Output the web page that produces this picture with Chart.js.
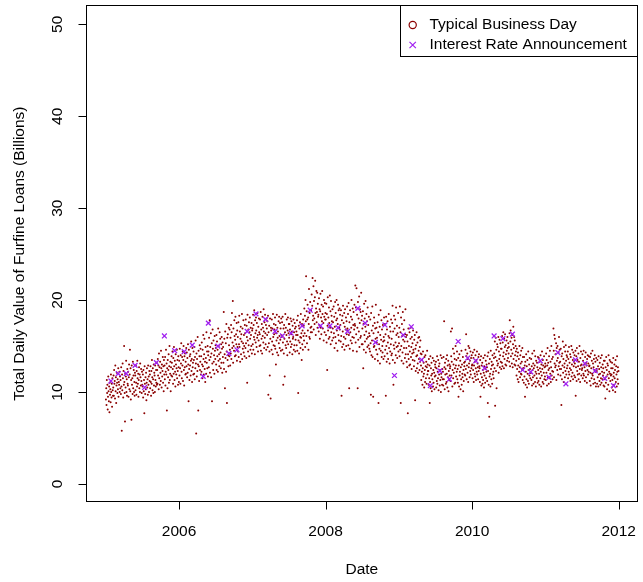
<!DOCTYPE html>
<html>
<head>
<meta charset="utf-8">
<script src="https://cdn.jsdelivr.net/npm/chart.js@4/dist/chart.umd.min.js"></script>
<style>
html,body{margin:0;padding:0;background:#fff;}
canvas{display:block;}
</style>
</head>
<body>
<canvas id="c" width="643" height="582"></canvas>
<script>
// ---- Data (Billions) ----
const years = [2005, 2006, 2007, 2008, 2009, 2010, 2011];

const v2005 = [
9.2,10.4,8.6,11.3,9.9,10.8,8.1,9.5,11.7,10.1,9.0,10.6,7.8,11.0,9.7,10.3,8.9,11.9,10.0,9.4,10.9,8.4,11.5,10.2,9.6,
10.5,11.8,9.6,12.4,10.9,11.2,9.3,12.9,10.1,11.6,8.8,10.7,12.1,11.0,9.9,11.4,10.3,12.6,9.5,11.1,10.8,12.2,10.0,11.7,10.4,
11.3,9.8,12.7,10.6,5.8,11.9,10.2,13.1,11.5,9.4,12.3,10.8,15.0,11.1,9.9,6.8,12.0,10.5,11.7,13.4,10.0,11.4,9.6,12.5,10.9,
10.7,12.2,9.5,11.6,13.0,10.3,11.9,14.6,10.1,12.6,9.2,11.3,7.0,12.9,10.8,11.5,9.8,13.3,10.4,11.8,12.4,10.0,11.1,9.6,12.1,
11.8,10.2,12.9,11.0,9.7,12.3,10.6,13.4,11.5,10.9,12.0,9.5,11.3,12.7,10.4,11.9,10.0,13.1,11.6,10.7,12.5,11.2,9.9,12.2,10.8,
10.6,11.9,9.4,12.4,10.1,11.3,7.7,12.8,10.9,9.8,11.6,10.3,12.1,9.1,11.0,12.6,10.5,11.4,9.7,12.9,10.8,11.7,10.0,12.3,11.2,
11.9,10.4,12.8,11.1,9.6,12.3,10.9,13.5,11.6,10.2,12.6,11.4,9.9,13.0,10.7,12.1,11.8,10.0,12.9,11.3,10.6,12.4,11.0,13.2,10.8,
12.4,10.9,13.6,11.8,12.9,10.3,14.2,11.5,12.7,10.8,13.3,12.1,11.2,14.5,12.6,10.5,13.0,11.7,12.3,13.8,11.0,12.8,10.1,13.5,11.9,
12.9,11.4,13.8,10.7,12.2,14.6,11.9,13.1,8.0,12.6,10.4,13.5,11.6,12.4,14.1,11.0,12.8,15.0,11.3,12.0,13.3,10.1,12.7,11.8,13.9,
13.2,11.7,14.4,12.5,10.9,13.7,12.0,14.9,12.8,11.3,13.4,12.2,10.6,14.1,13.0,11.9,12.6,14.6,11.5,13.5,12.3,10.8,13.9,12.7,11.1
];
const v2006 = [
13.4,11.8,14.7,12.6,10.9,14.0,13.1,15.3,12.2,11.5,13.8,12.9,14.4,11.2,13.5,15.0,12.4,10.7,13.9,12.7,14.2,11.9,13.3,12.0,14.8,
12.8,14.3,11.6,13.7,12.1,15.2,13.0,9.0,14.6,12.5,11.3,13.9,12.9,14.1,11.8,13.4,15.5,12.3,13.6,11.1,14.8,12.7,13.2,11.9,14.4,
13.5,12.0,14.9,11.4,13.8,12.6,15.6,13.1,5.5,14.2,11.7,13.6,12.3,16.0,13.0,8.0,14.5,12.8,11.2,13.9,15.1,12.4,13.3,14.7,11.9,
13.9,12.2,15.4,13.0,11.5,14.6,12.8,16.2,13.6,11.9,14.1,15.8,12.5,13.3,11.1,14.9,13.7,12.0,16.5,13.2,14.4,12.6,15.0,11.7,14.0,
14.4,12.7,15.9,13.5,17.8,12.1,14.9,13.8,16.4,11.6,14.2,15.3,9.0,13.1,16.8,14.7,12.4,15.6,13.3,14.0,12.0,16.1,14.5,13.6,15.1,
14.8,13.0,16.2,12.4,15.5,13.9,14.6,12.2,16.9,13.4,15.0,14.1,12.8,16.5,13.6,15.8,14.3,12.6,15.2,13.2,16.0,14.7,12.1,15.4,13.8,
14.9,13.2,18.7,12.5,15.8,14.1,10.4,16.6,13.7,15.3,12.2,17.4,14.4,8.8,15.9,13.5,16.3,14.0,12.8,17.0,15.1,13.9,16.8,14.6,12.9,
15.9,14.2,17.3,13.6,16.5,18.6,14.8,15.4,19.9,13.2,16.9,15.0,14.5,17.8,16.1,13.9,15.7,18.2,14.0,16.3,15.2,17.5,13.4,16.7,14.9,
16.0,14.4,17.6,13.8,15.2,18.3,14.9,16.6,13.3,15.8,17.1,14.1,16.3,15.5,18.5,13.6,16.9,14.7,15.3,17.8,14.3,16.2,15.0,13.9,17.3,
16.4,14.8,17.9,15.3,13.7,17.2,16.0,11.0,18.4,15.6,14.4,16.8,15.1,17.6,13.9,16.5,18.1,15.8,14.6,17.0,16.2,15.0,17.5,14.2,16.7
];
const v2007 = [
16.9,15.2,18.4,14.6,17.3,16.0,18.9,15.7,14.1,17.8,16.4,15.4,18.1,16.7,14.9,17.5,15.9,18.6,16.2,14.4,17.1,15.6,18.0,16.5,15.0,
16.3,17.9,15.1,18.7,14.5,16.8,15.8,17.4,14.2,18.2,16.1,17.0,15.4,19.0,16.6,14.8,17.6,15.9,18.4,16.4,15.2,17.3,14.6,18.0,16.9,
16.2,17.7,14.9,18.3,9.7,16.5,15.3,17.2,14.4,11.8,18.0,15.8,9.3,17.0,16.7,14.6,17.9,15.5,16.9,14.1,18.5,16.0,15.1,17.4,16.3,
16.8,15.0,18.1,14.7,17.3,13.0,16.4,15.6,18.4,14.3,17.0,15.9,16.6,14.0,17.7,15.3,18.2,16.1,14.8,17.5,15.7,16.9,14.5,18.0,16.2,
16.0,17.6,14.6,18.2,15.4,10.8,16.9,14.2,17.3,15.8,11.7,16.5,18.5,15.1,17.0,14.8,16.2,17.9,15.5,14.0,16.7,18.1,15.2,16.4,17.4,
15.9,17.4,14.3,16.8,15.5,18.0,14.9,16.3,17.7,15.2,16.6,14.1,17.2,15.8,16.0,17.9,14.6,16.5,15.1,17.5,16.9,14.4,15.7,17.1,16.2,
16.6,15.1,17.8,14.5,16.2,18.3,9.9,15.6,17.2,14.2,16.9,15.4,17.6,16.0,14.8,18.5,15.9,16.4,13.5,17.4,15.2,16.7,14.6,17.9,16.1,
17.2,15.6,19.1,16.4,18.3,14.9,20.0,17.7,22.6,16.1,18.8,15.3,17.9,19.5,16.7,18.1,14.6,17.4,21.2,16.0,18.6,15.8,19.8,17.0,16.5,
18.9,17.1,20.6,16.5,19.4,22.4,17.8,18.3,21.5,16.8,19.9,18.0,17.4,20.3,22.1,18.6,16.2,19.1,21.0,17.6,18.7,20.8,17.0,19.6,18.2,
18.4,16.6,20.2,17.3,19.0,15.8,18.8,20.7,17.0,18.1,16.3,19.5,17.7,21.0,18.5,16.9,19.3,17.5,15.6,20.0,18.2,16.5,19.7,17.9,18.6
];
const v2008 = [
17.9,16.2,19.6,15.4,18.5,12.4,17.2,20.3,16.7,18.1,15.8,19.2,17.5,16.0,20.5,17.0,18.8,15.2,19.9,16.5,18.3,17.7,15.6,19.0,16.9,
17.6,15.9,19.3,16.4,18.2,14.8,17.1,19.8,16.0,18.6,15.3,17.8,20.0,16.7,18.0,14.5,17.4,19.5,16.2,18.9,15.6,17.0,19.1,16.8,18.4,
17.3,15.5,18.9,16.1,9.6,17.8,14.9,18.3,16.6,19.4,15.2,17.5,16.0,18.6,14.6,17.1,19.0,15.8,16.8,18.1,15.0,17.7,16.3,19.3,16.9,
16.7,18.5,15.1,19.7,16.2,10.4,17.6,14.7,18.9,16.5,15.6,18.2,17.0,20.0,15.3,17.9,16.0,19.1,14.5,17.3,18.7,15.9,16.8,19.5,17.4,
17.2,21.6,15.4,19.2,16.3,21.3,14.4,18.4,17.0,10.4,19.8,15.7,18.0,16.6,20.4,14.9,17.5,19.0,15.9,18.7,16.1,20.8,17.8,15.2,18.3,
16.9,15.2,18.8,12.6,17.4,14.6,19.6,16.2,18.0,15.5,17.1,19.9,14.3,16.6,18.5,15.8,17.7,14.9,19.2,16.0,17.3,15.1,18.2,16.4,14.7,
16.1,14.4,17.9,15.3,9.7,18.6,14.0,16.7,15.6,19.3,13.8,17.2,9.5,16.4,14.9,18.1,15.0,17.5,13.6,16.9,15.8,19.5,14.6,17.0,15.4,
15.9,14.1,17.6,13.4,16.5,8.8,18.4,15.2,14.7,17.1,13.1,16.2,18.9,14.5,15.7,17.8,13.8,16.8,15.0,14.3,17.3,15.5,13.6,16.0,18.1,
15.6,13.9,17.4,14.6,16.3,9.6,18.2,15.0,13.3,16.8,14.2,17.7,15.4,13.6,16.1,18.5,14.8,15.9,13.1,17.1,14.4,16.6,15.2,17.9,14.0,
15.8,14.2,17.5,19.4,13.5,16.6,10.8,15.1,18.3,14.7,16.9,13.2,17.9,15.4,14.0,19.2,16.2,14.9,17.2,13.7,16.4,15.0,18.6,14.4,16.0
];
const v2009 = [
15.3,17.0,13.9,19.3,14.6,16.5,8.8,18.1,15.0,13.4,17.4,16.1,14.3,18.7,15.7,13.1,16.8,14.8,17.8,15.5,13.7,16.3,19.0,14.1,16.0,
14.8,13.3,16.2,12.7,15.5,7.7,14.1,16.9,13.6,15.0,12.9,16.5,14.4,13.0,15.8,17.0,13.8,14.9,12.5,16.0,14.2,15.3,13.5,16.7,14.6,
14.3,12.8,15.7,13.4,16.2,9.1,14.7,12.3,15.1,13.9,16.5,12.6,14.0,15.4,13.1,12.1,15.9,14.5,13.6,16.0,12.4,14.9,13.3,15.6,14.2,
12.9,11.3,14.1,12.2,13.5,10.8,12.6,14.4,11.7,13.2,12.0,10.5,13.8,12.4,11.1,14.0,12.8,11.5,13.3,10.9,12.7,14.5,11.9,13.0,12.3,
12.3,10.8,13.6,11.5,12.9,8.8,11.1,13.9,10.4,12.6,11.8,13.2,10.1,12.0,11.4,13.7,10.6,12.4,11.0,13.4,12.1,10.3,11.7,13.0,12.7,
11.8,13.3,10.5,12.6,11.2,13.9,10.9,12.2,11.5,13.5,10.2,12.8,11.9,13.1,10.7,12.4,11.3,14.0,10.0,12.0,11.6,13.7,10.8,12.5,11.4,
12.2,10.7,13.8,11.4,17.7,12.7,10.3,13.2,11.9,12.5,10.9,13.6,11.1,12.0,14.0,10.5,12.9,11.6,13.4,10.1,12.3,11.3,13.0,11.8,12.6,
12.8,11.2,16.6,13.9,11.8,13.3,16.9,10.6,12.4,14.7,11.5,13.0,12.1,14.2,10.9,13.6,12.6,11.0,15.0,12.9,11.7,13.5,12.2,14.4,11.4,
12.5,11.0,13.7,9.5,12.9,10.6,14.1,11.8,12.2,13.4,10.3,12.7,11.4,14.5,10.8,13.0,12.0,11.6,13.8,10.1,12.4,11.2,13.2,12.8,11.9,
13.3,11.8,14.6,12.5,16.3,13.9,11.4,12.9,14.2,12.1,13.6,11.1,15.0,12.7,13.1,14.8,11.6,13.4,12.3,14.4,11.9,13.7,12.6,14.0,12.9
];
const v2010 = [
13.0,11.5,14.3,12.4,13.7,11.1,12.9,14.6,12.0,13.3,11.7,14.0,12.6,11.3,13.5,12.2,14.4,11.9,13.1,12.7,11.4,13.8,12.3,14.1,12.8,
12.6,11.1,13.5,9.5,12.0,13.9,10.7,12.9,11.6,13.2,10.9,12.4,11.3,13.7,12.1,10.5,12.8,11.8,14.0,11.0,12.5,13.4,11.5,12.2,13.0,
12.7,11.2,13.9,8.8,12.3,14.3,10.8,13.1,7.3,11.7,13.6,12.0,10.6,14.5,12.5,11.4,13.3,12.9,10.9,14.0,11.9,13.0,12.2,11.5,13.7,
14.2,12.6,15.5,8.5,13.8,15.9,12.3,14.6,10.4,13.4,15.2,12.9,14.9,13.1,16.0,12.1,14.4,13.6,15.7,12.7,14.0,15.3,13.3,14.7,12.5,
14.7,13.2,16.1,12.8,15.4,13.9,16.5,14.3,12.6,15.8,13.6,14.9,16.3,13.0,15.1,14.1,12.9,15.6,14.5,13.4,16.0,14.8,13.7,15.3,14.2,
14.9,13.3,16.4,17.8,12.8,15.5,16.7,13.9,14.6,15.9,13.1,16.2,14.2,12.7,15.2,17.1,13.6,14.8,16.0,13.0,15.6,14.0,12.9,15.0,14.4,
13.4,11.8,14.7,12.5,13.9,11.4,14.3,12.9,11.1,13.6,12.2,15.0,12.7,11.6,14.0,13.1,12.0,14.5,11.9,13.3,12.4,14.8,11.3,13.8,12.6,
12.6,11.0,13.8,11.7,12.9,9.5,13.3,10.8,12.2,14.1,11.4,12.8,10.5,13.5,12.0,11.2,14.4,12.4,10.9,13.0,11.8,13.7,12.5,11.5,12.1,
12.1,13.6,11.3,12.8,10.7,14.2,12.4,11.6,13.1,10.9,12.6,14.5,11.8,12.9,11.1,13.9,12.2,10.6,13.4,12.0,11.5,13.2,12.7,11.0,13.8,
12.4,11.2,13.7,12.0,10.8,13.3,12.6,11.5,14.0,12.2,10.6,13.0,11.8,14.4,12.5,11.1,13.5,12.9,10.9,12.1,13.9,11.4,12.7,11.7,13.1
];
const v2011 = [
12.8,11.3,14.2,12.1,13.5,10.7,12.9,14.8,11.6,13.2,12.4,10.9,13.9,12.6,11.5,14.5,12.0,13.3,11.1,12.7,15.0,11.8,13.6,12.3,11.4,
13.8,12.2,16.9,14.5,11.6,16.2,13.1,15.8,12.7,14.1,12.9,15.3,11.3,14.8,13.4,12.4,15.0,13.7,11.9,14.3,12.8,16.0,13.2,14.6,12.5,
13.3,11.8,14.7,12.5,8.6,13.9,11.4,14.2,12.9,15.5,12.1,13.6,11.1,14.9,12.7,13.1,11.6,14.4,12.3,15.1,13.4,11.9,14.0,12.6,13.8,
12.9,14.4,11.5,13.6,12.2,14.9,11.9,13.2,12.6,14.1,11.2,13.8,12.4,15.0,11.7,13.0,14.6,12.1,13.5,11.4,14.3,12.8,13.3,11.8,14.0,
13.1,11.6,14.5,9.6,12.7,13.9,11.2,14.8,12.3,13.5,11.9,12.8,14.2,11.4,13.3,12.0,15.0,12.5,11.1,13.7,12.9,14.4,11.8,13.0,12.4,
12.6,14.1,11.5,13.4,12.0,14.5,11.8,13.0,12.7,11.2,13.8,12.3,14.3,11.6,13.2,12.9,11.0,13.6,12.4,14.0,11.9,13.1,12.2,13.9,12.8,
12.9,11.2,13.8,12.1,10.7,14.2,12.6,11.5,13.4,12.0,14.5,11.8,13.1,10.9,12.7,13.6,11.4,12.4,14.0,11.0,13.3,12.2,10.6,13.7,12.5,
12.3,10.9,13.5,11.6,12.8,10.6,13.9,11.9,12.5,11.2,13.2,12.0,10.8,13.7,11.5,12.7,11.0,14.0,12.2,11.4,13.0,11.8,12.6,10.7,13.4,
12.1,10.6,13.4,11.4,9.3,12.7,11.0,13.8,11.7,12.4,10.3,13.1,11.9,12.9,10.8,14.0,11.5,12.2,10.1,13.5,12.0,11.2,13.3,11.8,12.6,
11.9,10.5,13.2,11.3,12.6,10.2,13.7,11.7,12.1,10.8,13.0,11.5,12.4,10.0,13.5,11.1,12.8,11.9,10.6,13.9,12.2,11.4,12.7,10.9,12.3
];

// Interest rate announcement days (decimal year) and values
const annDates = [2005.07,2005.17,2005.28,2005.40,2005.53,2005.69,2005.80,2005.94,
  2006.07,2006.18,2006.33,2006.40,2006.53,2006.68,2006.79,2006.93,
  2007.05,2007.18,2007.31,2007.41,2007.53,2007.68,2007.79,2007.93,
  2008.06,2008.17,2008.30,2008.44,2008.54,2008.68,2008.81,2008.94,
  2009.06,2009.17,2009.31,2009.43,2009.56,2009.69,2009.81,2009.94,
  2010.05,2010.17,2010.30,2010.42,2010.55,2010.69,2010.80,2010.93,
  2011.05,2011.17,2011.28,2011.41,2011.54,2011.68,2011.81,2011.93];
const annValues = [11.2,12.0,12.0,12.9,10.5,13.2,16.1,14.5,
  14.4,15.1,11.7,17.5,15.0,14.2,14.6,16.6,
  18.5,17.9,16.6,16.1,16.4,17.2,18.9,17.2,
  17.2,17.0,16.6,19.1,17.5,15.4,17.3,11.8,
  16.2,17.1,13.5,10.7,12.3,11.4,15.5,13.7,
  13.4,12.6,16.1,15.8,16.3,12.4,12.2,13.4,
  11.6,14.3,10.9,13.5,13.1,12.3,11.5,10.7];

const xTicks = [2006, 2008, 2010, 2012];
const yTicks = [0, 10, 20, 30, 40, 50];
const xTitle = 'Date';
const yTitle = 'Total Daily Value of Furfine Loans (Billions)';
const legendLabels = ['Typical Business Day', 'Interest Rate Announcement'];

// ---- Build points ----
const yearly = [v2005, v2006, v2007, v2008, v2009, v2010, v2011];
const dayPts = [];
yearly.forEach((arr, k) => {
  arr.forEach((v, i) => dayPts.push({ x: years[k] + (i + 0.5) / arr.length, y: v }));
});
const annPts = annDates.map((d, i) => ({ x: d, y: annValues[i] }));

const DARKRED = '#8B0000';
const PURPLE = '#A020F0';
const FONT = '15.5px "Liberation Sans", Arial, Helvetica, sans-serif';

const rAxes = {
  id: 'rAxes',
  afterDraw(chart) {
    const ctx = chart.ctx;
    const a = chart.chartArea;
    const xs = chart.scales.x, ys = chart.scales.y;
    ctx.save();
    ctx.strokeStyle = '#000';
    ctx.lineWidth = 1;
    // box
    ctx.strokeRect(Math.round(a.left) + 0.5, Math.round(a.top) + 0.5,
      Math.round(a.right - a.left) - 1, Math.round(a.bottom - a.top) - 1);
    ctx.fillStyle = '#000';
    ctx.font = FONT;
    // x ticks
    ctx.textAlign = 'center';
    ctx.textBaseline = 'middle';
    const yb = Math.round(a.bottom) - 0.5;
    ctx.beginPath();
    xTicks.forEach(t => {
      const px = Math.round(xs.getPixelForValue(t)) + 0.5;
      ctx.moveTo(px, yb); ctx.lineTo(px, yb + 8);
    });
    ctx.stroke();
    xTicks.forEach(t => ctx.fillText(String(t), xs.getPixelForValue(t), 532));
    // y ticks
    const xl = Math.round(a.left) + 0.5;
    ctx.beginPath();
    yTicks.forEach(t => {
      const py = Math.round(ys.getPixelForValue(t)) + 0.5;
      ctx.moveTo(xl, py); ctx.lineTo(xl - 8, py);
    });
    ctx.stroke();
    yTicks.forEach(t => {
      ctx.save();
      ctx.translate(58, ys.getPixelForValue(t));
      ctx.rotate(-Math.PI / 2);
      ctx.fillText(String(t), 0, 0);
      ctx.restore();
    });
    // titles
    ctx.fillText(xTitle, (a.left + a.right) / 2, 570);
    ctx.save();
    ctx.translate(20, (a.top + a.bottom) / 2);
    ctx.rotate(-Math.PI / 2);
    ctx.fillText(yTitle, 0, 0);
    ctx.restore();
    // legend
    const lx = 400, ly = 5, lr = Math.round(a.right), lb = 56;
    ctx.fillStyle = '#fff';
    ctx.fillRect(lx, ly, lr - lx, lb - ly);
    ctx.strokeStyle = '#000';
    ctx.strokeRect(lx + 0.5, ly + 0.5, lr - lx - 1, lb - ly);
    ctx.lineWidth = 1.2;
    ctx.strokeStyle = DARKRED;
    ctx.beginPath();
    ctx.arc(412.7, 25, 3.6, 0, Math.PI * 2);
    ctx.stroke();
    ctx.strokeStyle = PURPLE;
    ctx.beginPath();
    ctx.moveTo(409.5, 41.8); ctx.lineTo(415.9, 48.2);
    ctx.moveTo(415.9, 41.8); ctx.lineTo(409.5, 48.2);
    ctx.stroke();
    ctx.fillStyle = '#000';
    ctx.textAlign = 'left';
    ctx.fillText(legendLabels[0], 429.5, 25);
    ctx.fillText(legendLabels[1], 429.5, 45);
    ctx.restore();
  }
};

new Chart(document.getElementById('c'), {
  type: 'scatter',
  data: {
    datasets: [
      {
        label: legendLabels[1],
        data: annPts,
        pointStyle: 'crossRot',
        pointRadius: 3.4,
        borderWidth: 1.3,
        borderColor: PURPLE,
        backgroundColor: PURPLE
      },
      {
        label: legendLabels[0],
        data: dayPts,
        pointStyle: 'circle',
        pointRadius: 1.0,
        borderWidth: 0,
        backgroundColor: DARKRED,
        borderColor: DARKRED
      }
    ]
  },
  options: {
    responsive: false,
    animation: false,
    devicePixelRatio: 1,
    layout: { padding: { left: 86, right: 3, top: 5, bottom: 80 } },
    scales: {
      x: { type: 'linear', min: 2004.73, max: 2012.26, display: false },
      y: { type: 'linear', min: -1.96, max: 52.07, display: false }
    },
    plugins: {
      legend: { display: false },
      tooltip: { enabled: false }
    },
    events: []
  },
  plugins: [rAxes]
});
</script>
</body>
</html>
